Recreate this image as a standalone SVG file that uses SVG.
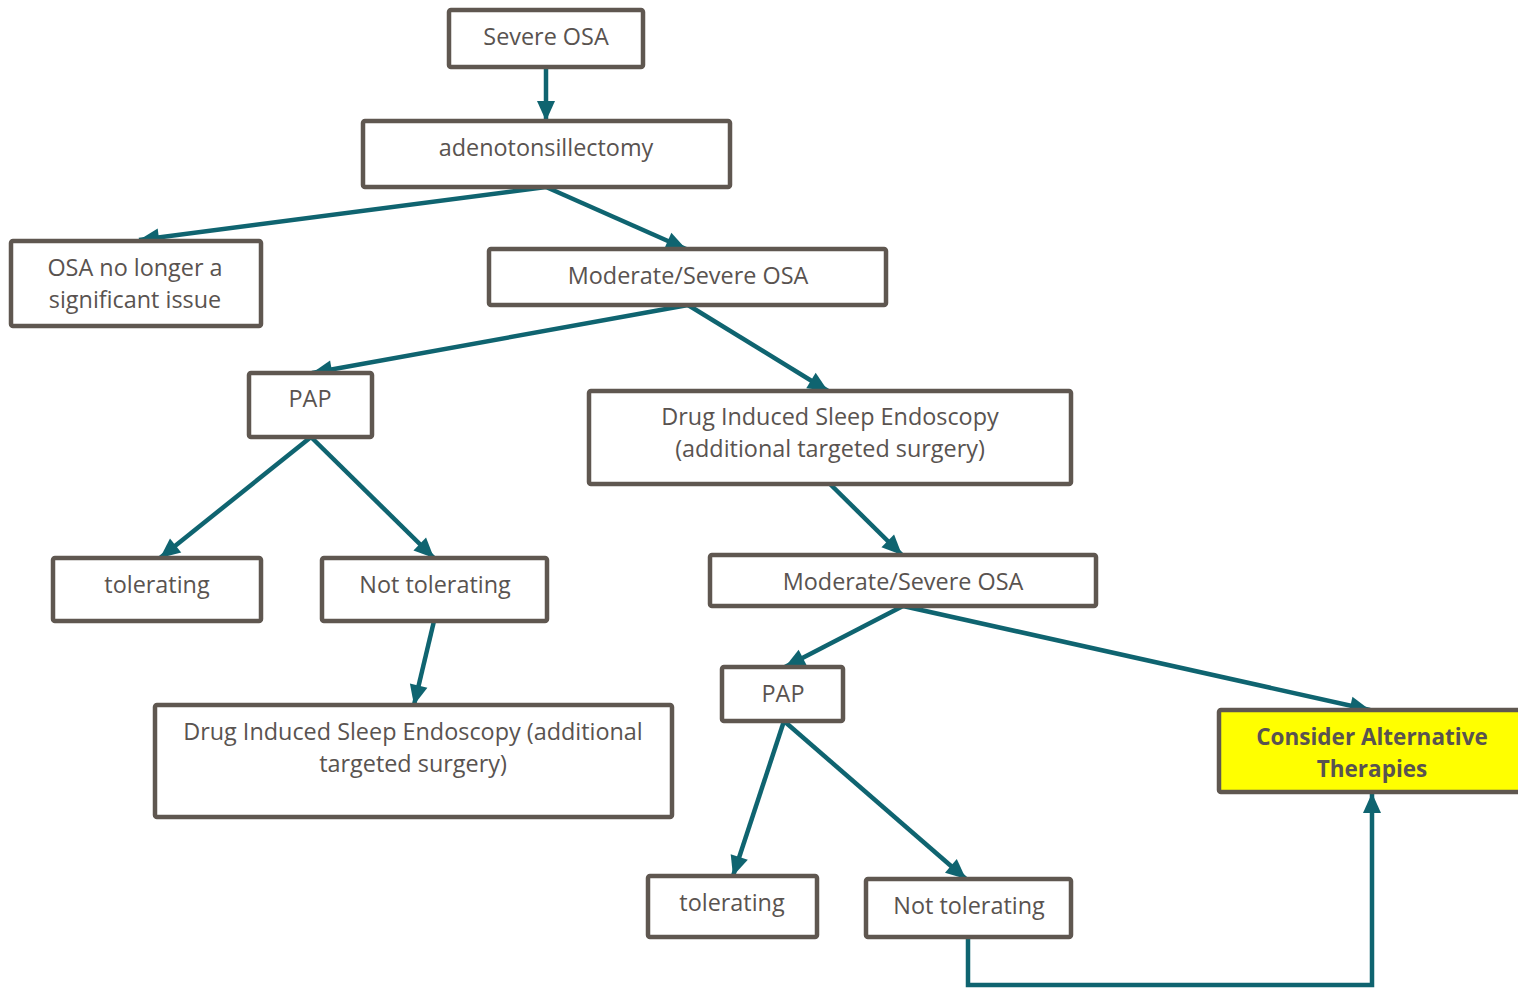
<svg xmlns="http://www.w3.org/2000/svg" width="1518" height="988" viewBox="0 0 1518 988">
<defs>
<marker id="ah" markerUnits="userSpaceOnUse" markerWidth="22" markerHeight="20" refX="20" refY="9" orient="auto" overflow="visible">
<path d="M0,0 L20,9 L0,18 z" fill="#0f6470"/>
</marker>
<style>
.box{fill:#fff;stroke:#5f5750;stroke-width:4.5}
.hl{fill:#ffff00;stroke:#5f5750;stroke-width:4.5}
.t{font-family:"Open Sans","Noto Sans",sans-serif;font-size:23.4px;fill:#595350;text-anchor:middle}
.b{font-weight:bold;font-size:22.5px}
.c{fill:none;stroke:#0f6470;stroke-width:4.5;marker-end:url(#ah)}
</style>
</defs>
<rect width="1518" height="988" fill="#fff"/>
<g id="connectors">
<path class="c" d="M546,67 L546,121"/>
<path class="c" d="M546,187 L139,240"/>
<path class="c" d="M546,187 L686,249"/>
<path class="c" d="M688,305 L312,373"/>
<path class="c" d="M688,305 L828,391"/>
<path class="c" d="M311,437 L160,558"/>
<path class="c" d="M311,437 L434,558"/>
<path class="c" d="M434,621 L414,705"/>
<path class="c" d="M830,484 L902,555"/>
<path class="c" d="M903,606 L785,667"/>
<path class="c" d="M903,606 L1370,710"/>
<path class="c" d="M784,721 L733,876"/>
<path class="c" d="M784,721 L966,879"/>
<path class="c" d="M968,937 L968,985 L1372,985 L1372,793"/>
</g>
<g id="n1"><rect class="box" x="449" y="10" width="194" height="57" rx="2"/><text class="t" x="546" y="45">Severe OSA</text></g>
<g id="n2"><rect class="box" x="363" y="121" width="367" height="66" rx="2"/><text class="t" x="546" y="156">adenotonsillectomy</text></g>
<g id="n3"><rect class="box" x="11" y="241" width="250" height="85" rx="2"/><text class="t" x="135" y="276">OSA no longer a</text><text class="t" x="135" y="308">significant issue</text></g>
<g id="n4"><rect class="box" x="489" y="249" width="397" height="56" rx="2"/><text class="t" x="688" y="284">Moderate/Severe OSA</text></g>
<g id="n5"><rect class="box" x="249" y="373" width="123" height="64" rx="2"/><text class="t" x="310" y="407">PAP</text></g>
<g id="n6"><rect class="box" x="589" y="391" width="482" height="93" rx="2"/><text class="t" x="830" y="425">Drug Induced Sleep Endoscopy</text><text class="t" x="830" y="457">(additional targeted surgery)</text></g>
<g id="n7"><rect class="box" x="53" y="558" width="208" height="63" rx="2"/><text class="t" x="157" y="593">tolerating</text></g>
<g id="n8"><rect class="box" x="322" y="558" width="225" height="63" rx="2"/><text class="t" x="435" y="593">Not tolerating</text></g>
<g id="n9"><rect class="box" x="155" y="705" width="517" height="112" rx="2"/><text class="t" x="413" y="740">Drug Induced Sleep Endoscopy (additional</text><text class="t" x="413" y="772">targeted surgery)</text></g>
<g id="n10"><rect class="box" x="710" y="555" width="386" height="51" rx="2"/><text class="t" x="903" y="590">Moderate/Severe OSA</text></g>
<g id="n11"><rect class="box" x="722" y="667" width="121" height="54" rx="2"/><text class="t" x="783" y="702">PAP</text></g>
<g id="n12"><rect class="hl" x="1219" y="710" width="320" height="82" rx="2"/><text class="t b" x="1372" y="745">Consider Alternative</text><text class="t b" x="1372" y="777">Therapies</text></g>
<g id="n13"><rect class="box" x="648" y="876" width="169" height="61" rx="2"/><text class="t" x="732" y="911">tolerating</text></g>
<g id="n14"><rect class="box" x="866" y="879" width="205" height="58" rx="2"/><text class="t" x="969" y="914">Not tolerating</text></g>
</svg>
